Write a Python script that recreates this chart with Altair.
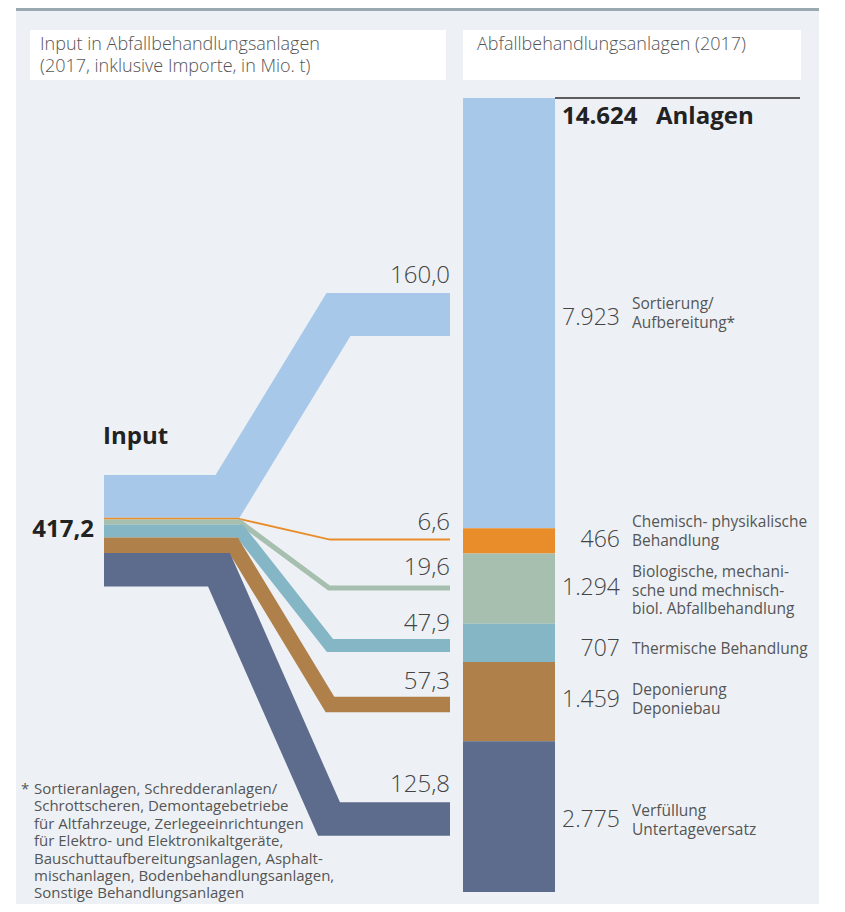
import altair as alt
import pandas as pd

# ---------------- data ----------------
categories = [
    "Sortierung/Aufbereitung",
    "Chemisch-physikalische Behandlung",
    "Biologische/mechanisch-biologische Abfallbehandlung",
    "Thermische Behandlung",
    "Deponierung/Deponiebau",
    "Verfüllung/Untertageversatz",
]
input_values = [160.0, 6.6, 19.6, 47.9, 57.3, 125.8]      # Mio. t
input_labels = ["160,0", "6,6", "19,6", "47,9", "57,3", "125,8"]
input_total = 417.2
input_total_label = "417,2"

plant_counts = [7923, 466, 1294, 707, 1459, 2775]        # Anlagen
plant_labels = ["7.923", "466", "1.294", "707", "1.459", "2.775"]
plant_total = 14624
plant_total_label = "14.624"

plant_text = [
    ["Sortierung/", "Aufbereitung*"],
    ["Chemisch- physikalische", "Behandlung"],
    ["Biologische, mechani-", "sche und mechnisch-", "biol. Abfallbehandlung"],
    ["Thermische Behandlung"],
    ["Deponierung", "Deponiebau"],
    ["Verfüllung", "Untertageversatz"],
]

title_left = ["Input in Abfallbehandlungsanlagen", "(2017, inklusive Importe, in Mio. t)"]
title_right = ["Abfallbehandlungsanlagen (2017)"]
footnote = [
    "Sortieranlagen, Schredderanlagen/",
    "Schrottscheren, Demontagebetriebe",
    "für Altfahrzeuge, Zerlegeeinrichtungen",
    "für Elektro- und Elektronikaltgeräte,",
    "Bauschuttaufbereitungsanlagen, Asphalt-",
    "mischanlagen, Bodenbehandlungsanlagen,",
    "Sonstige Behandlungsanlagen",
]

# ---------------- styles / layout ----------------
colors = ["#a8c8ea", "#e98d2b", "#a6bfae", "#85b6c6", "#b0804a", "#5d6b8c"]
FONT = "Open Sans"
W, H, OFF = 829, 896, 8
X = alt.Scale(domain=[OFF, OFF + W], range=[0, W])
Y = alt.Scale(domain=[OFF, OFF + H], range=[0, H])

flow_px = 111.5                       # px thickness of whole input block
src_top = 475
flow_x0, flow_x3 = 104, 450
bend1_x = [227.5, 238, 240, 240, 233.5, 219]
bend2_x = [338.5, 330, 329, 330, 330, 329]
dest_y = [314.5, 539.5, 588, 645.5, 704.5, 819]
flow_label_y = [276, 523, 568, 624, 682, 785]

bar_x0, bar_x1, bar_top, bar_bottom = 463, 555, 98, 892
num_x, lab_x = 620, 632
num_y = [318, 540, 588, 649, 700, 820]
lab_y = [304, 522, 572, 649, 690, 811]      # first line of each label
lab_line_h = 18.5

# ---------------- background ----------------
bg = pd.DataFrame({
    "x0": [16, 16, 30, 463], "x1": [819, 819, 446, 801],
    "y0": [8, 11, 30, 30], "y1": [11, 904, 80, 80],
    "fill": ["#9aa8b0", "#edf1f5", "#ffffff", "#ffffff"],
})
bg_layer = alt.Chart(bg).mark_rect().encode(
    x=alt.X("x0:Q", scale=X, axis=None), x2="x1:Q",
    y=alt.Y("y0:Q", scale=Y, axis=None), y2="y1:Q",
    color=alt.Color("fill:N", scale=None),
)

# ---------------- flows ----------------
k = flow_px / input_total
rows = []
cum = 0.0
for i, (c, v) in enumerate(zip(categories, input_values)):
    yc = src_top + k * (cum + v / 2)
    cum += v
    pts = [(flow_x0, yc), (bend1_x[i], yc), (bend2_x[i], dest_y[i]), (flow_x3, dest_y[i])]
    for j, (px, py) in enumerate(pts):
        rows.append({"series": c, "ord": j, "x": px, "y": py, "value": v, "idx": i})
flows = pd.DataFrame(rows)
flow_layer = alt.Chart(flows).mark_line(
    strokeJoin="miter", strokeCap="butt", strokeMiterLimit=30
).encode(
    x=alt.X("x:Q", scale=X, axis=None),
    y=alt.Y("y:Q", scale=Y, axis=None),
    color=alt.Color("series:N", scale=alt.Scale(domain=categories, range=colors), legend=None),
    size=alt.Size("value:Q", scale=alt.Scale(domain=[0, input_total], range=[0, flow_px]), legend=None),
    detail="series:N",
    order="ord:Q",
)

flow_lab = pd.DataFrame({"x": [flow_x3] * 6, "y": flow_label_y, "t": input_labels})
flow_lab_layer = alt.Chart(flow_lab).mark_text(
    font=FONT, fontSize=24, fontWeight=300, color="#444444", align="right", baseline="middle"
).encode(x=alt.X("x:Q", scale=X, axis=None), y=alt.Y("y:Q", scale=Y, axis=None), text="t:N")

# ---------------- stacked bar ----------------
bar_df = pd.DataFrame({"cat": categories, "count": plant_counts, "idx": list(range(6))})
bar_layer = alt.Chart(bar_df).transform_stack(
    stack="count", groupby=[], as_=["s0", "s1"], sort=[alt.SortField("idx", order="ascending")]
).mark_rect().encode(
    x=alt.X(datum=bar_x0, scale=X, axis=None),
    x2=alt.X2(datum=bar_x1),
    y=alt.Y("s0:Q", scale=alt.Scale(domain=[0, plant_total], range=[bar_top - OFF, bar_bottom - OFF]), axis=None),
    y2="s1:Q",
    color=alt.Color("cat:N", scale=alt.Scale(domain=categories, range=colors), legend=None),
)

top_rule = alt.Chart(pd.DataFrame({"x0": [bar_x1], "x1": [800], "y": [bar_top]})).mark_rule(
    color="#2a2a2a", strokeWidth=1.5
).encode(x=alt.X("x0:Q", scale=X, axis=None), x2="x1:Q", y=alt.Y("y:Q", scale=Y, axis=None))

num_df = pd.DataFrame({"x": [num_x] * 6, "y": num_y, "t": plant_labels})
num_layer = alt.Chart(num_df).mark_text(
    font=FONT, fontSize=23, fontWeight=300, color="#444444", align="right", baseline="middle"
).encode(x=alt.X("x:Q", scale=X, axis=None), y=alt.Y("y:Q", scale=Y, axis=None), text="t:N")

lab_df = pd.DataFrame({"x": [lab_x] * 6, "y": lab_y, "t": ["\n".join(l) for l in plant_text]})
lab_layer = alt.Chart(lab_df).mark_text(
    font=FONT, fontSize=15.5, color="#555555", align="left", baseline="middle",
    lineBreak="\n", lineHeight=lab_line_h,
).encode(x=alt.X("x:Q", scale=X, axis=None), y=alt.Y("y:Q", scale=Y, axis=None), text="t:N")

# ---------------- titles & bold texts ----------------
title_df = pd.DataFrame({"x": [40, 477], "y": [45, 45],
                         "t": ["\n".join(title_left), "\n".join(title_right)]})
title_layer = alt.Chart(title_df).mark_text(
    font=FONT, fontSize=18, fontWeight=300, color="#555555", align="left", baseline="middle",
    lineBreak="\n", lineHeight=22,
).encode(x=alt.X("x:Q", scale=X, axis=None), y=alt.Y("y:Q", scale=Y, axis=None), text="t:N")

bold_left = pd.DataFrame({"x": [103, 562, 656], "y": [437, 117, 117],
                          "t": ["Input", plant_total_label, "Anlagen"]})
bold_left_layer = alt.Chart(bold_left).mark_text(
    font=FONT, fontSize=24, fontWeight="bold", color="#222222", align="left", baseline="middle"
).encode(x=alt.X("x:Q", scale=X, axis=None), y=alt.Y("y:Q", scale=Y, axis=None), text="t:N")

bold_right = pd.DataFrame({"x": [94], "y": [530], "t": [input_total_label]})
bold_right_layer = alt.Chart(bold_right).mark_text(
    font=FONT, fontSize=24, fontWeight="bold", color="#222222", align="right", baseline="middle"
).encode(x=alt.X("x:Q", scale=X, axis=None), y=alt.Y("y:Q", scale=Y, axis=None), text="t:N")

# ---------------- footnote ----------------
fn_df = pd.DataFrame({"x": [21, 34], "y": [789, 789], "t": ["*", "\n".join(footnote)]})
fn_layer = alt.Chart(fn_df).mark_text(
    font=FONT, fontSize=15, color="#555555", align="left", baseline="middle",
    lineBreak="\n", lineHeight=17.4,
).encode(x=alt.X("x:Q", scale=X, axis=None), y=alt.Y("y:Q", scale=Y, axis=None), text="t:N")

chart = alt.layer(
    bg_layer, flow_layer, flow_lab_layer, bar_layer, top_rule, num_layer, lab_layer,
    title_layer, bold_left_layer, bold_right_layer, fn_layer,
).resolve_scale(
    x="independent", y="independent", color="independent", size="independent"
).properties(
    width=W, height=H, padding=0, autosize=alt.AutoSizeParams(type="none"), background="#ffffff"
).configure_view(stroke=None)

chart.save("out.html", embed_options={"renderer": "svg", "actions": False})
